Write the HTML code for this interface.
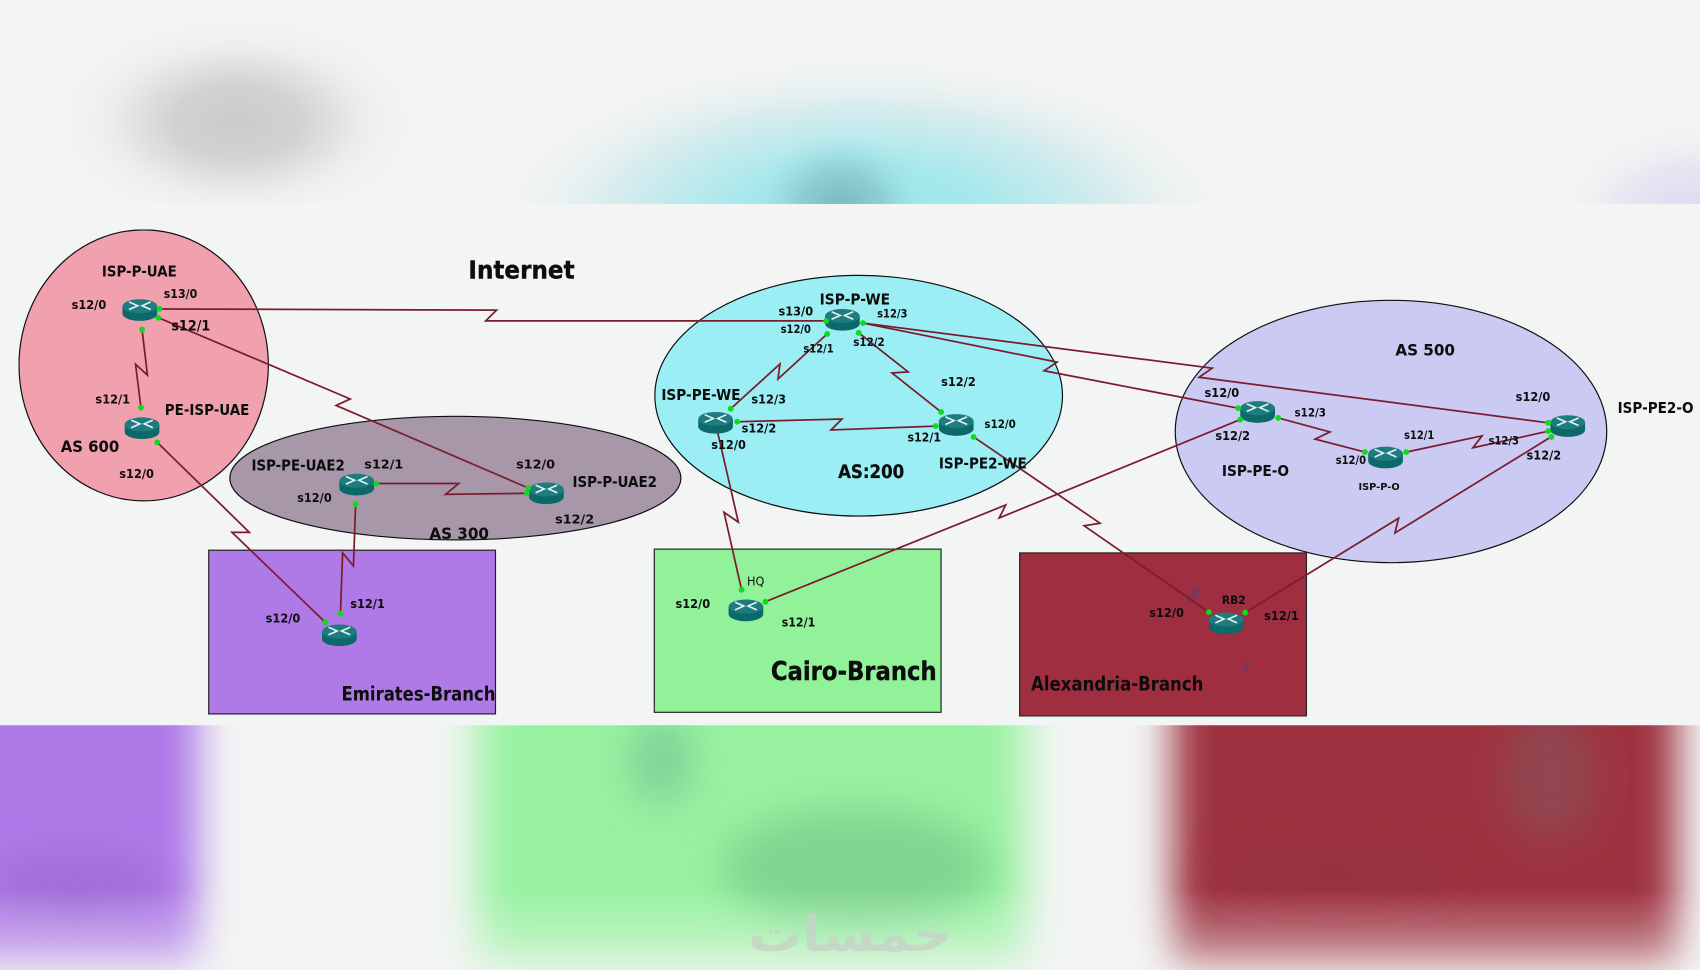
<!DOCTYPE html>
<html><head><meta charset="utf-8"><style>
html,body{margin:0;padding:0;background:#f3f5f4;width:1700px;height:970px;overflow:hidden}
svg{display:block;overflow:hidden}
.s{font:bold 11.5px "DejaVu Sans","Liberation Sans",sans-serif;fill:#111}
.n{font:bold 14px "DejaVu Sans","Liberation Sans",sans-serif;fill:#0a0a0a}
.l{fill:none;stroke:#7a1f2e;stroke-width:1.6;stroke-linejoin:miter}
.d{fill:#10dc1c}
</style></head><body>
<svg width="1700" height="970" viewBox="0 0 1568 894.7" xmlns="http://www.w3.org/2000/svg">
<defs>
<filter id="b2" x="-50%" y="-50%" width="200%" height="200%"><feGaussianBlur stdDeviation="18"/></filter>
<filter id="b3" x="-50%" y="-50%" width="200%" height="200%"><feGaussianBlur stdDeviation="20"/></filter>
<filter id="soft" x="0" y="0" width="100%" height="100%"><feGaussianBlur stdDeviation="0.35"/></filter>
<radialGradient id="gGray"><stop offset="0" stop-color="#cbcbcb"/><stop offset=".35" stop-color="#d2d2d2"/><stop offset=".7" stop-color="#ececeb"/><stop offset="1" stop-color="#f1f3f2" stop-opacity="0"/></radialGradient>
<radialGradient id="gTeal"><stop offset="0" stop-color="#96e8ee"/><stop offset=".35" stop-color="#a6e8ec"/><stop offset=".7" stop-color="#d8ecee"/><stop offset="1" stop-color="#f1f3f2" stop-opacity="0"/></radialGradient>
<radialGradient id="gTeal2"><stop offset="0" stop-color="#78b6bb"/><stop offset=".5" stop-color="#86c6ca" stop-opacity=".75"/><stop offset="1" stop-color="#9fe0e4" stop-opacity="0"/></radialGradient>
<radialGradient id="gPur"><stop offset="0" stop-color="#dcd6f0"/><stop offset=".6" stop-color="#e8e6f2"/><stop offset="1" stop-color="#f1f3f2" stop-opacity="0"/></radialGradient>
<linearGradient id="fade" x1="0" y1="0" x2="0" y2="1"><stop offset="0" stop-color="#f3f5f4" stop-opacity="0"/><stop offset="1" stop-color="#f3f5f4" stop-opacity=".55"/></linearGradient>
<clipPath id="top"><rect x="0" y="0" width="1568" height="188"/></clipPath>
<clipPath id="bot"><rect x="0" y="669" width="1568" height="225.7"/></clipPath>
<g id="r">
<path d="M-16-3.5V3.5A16 6.5 0 0 0 16 3.5V-3.5Z" fill="#0c686b"/>
<ellipse cx="0" cy="-3.5" rx="16" ry="6.5" fill="#1d7b80"/>
<path d="M-10-7.5L-2-4L-10-0.5M10-7.5L2-4L10-0.5" fill="none" stroke="#e6f2f2" stroke-width="1.5"/>
</g>
</defs>
<rect width="1568" height="894.7" fill="#f3f5f4"/>
<g clip-path="url(#top)">
<rect width="1568" height="188" fill="#f2f4f3"/>
<ellipse cx="218" cy="112" rx="165" ry="95" fill="url(#gGray)"/>
<ellipse cx="795" cy="205" rx="340" ry="152" fill="url(#gTeal)"/>
<ellipse cx="775" cy="195" rx="80" ry="72" fill="url(#gTeal2)"/>
<ellipse cx="1568" cy="205" rx="130" ry="90" fill="url(#gPur)"/>
</g>
<g clip-path="url(#bot)">
<rect y="669" width="1568" height="225.7" fill="#f3f5f4"/>
<rect x="-60" y="620" width="243" height="274" fill="#af79e8" filter="url(#b2)"/>
<ellipse cx="70" cy="815" rx="80" ry="30" fill="#a06ed8" filter="url(#b2)"/>
<rect x="440" y="620" width="505" height="274" fill="#98f2a0" filter="url(#b3)"/>
<ellipse cx="610" cy="700" rx="30" ry="42" fill="#7ed498" filter="url(#b2)"/>
<ellipse cx="790" cy="800" rx="125" ry="55" fill="#80d690" filter="url(#b2)"/>
<rect x="1082" y="620" width="465" height="274" fill="#9e3041" filter="url(#b2)"/>
<ellipse cx="1430" cy="716" rx="42" ry="60" fill="#914650" filter="url(#b2)"/>
<ellipse cx="1230" cy="805" rx="110" ry="30" fill="#983040" filter="url(#b2)"/>
<rect y="820" width="1568" height="74.7" fill="url(#fade)"/>
</g>
<text x="878" y="877" font-family="'DejaVu Sans',sans-serif" font-weight="bold" font-size="46" fill="#c6d4c6" opacity="0.8" textLength="188" lengthAdjust="spacingAndGlyphs" direction="rtl" style="unicode-bidi:plaintext">خمسات</text>

<g filter="url(#soft)">
<ellipse cx="132.5" cy="337" rx="115" ry="125" fill="#f1a1ae" stroke="#111" stroke-width="1.1"/>
<ellipse cx="420" cy="441" rx="208" ry="57" fill="#a797a9" stroke="#111" stroke-width="1.1"/>
<ellipse cx="792" cy="365" rx="188" ry="111" fill="#9beef4" stroke="#111" stroke-width="1.1"/>
<ellipse cx="1283" cy="398" rx="199" ry="121" fill="#cacaf2" stroke="#111" stroke-width="1.1"/>
<rect x="192.5" y="507.5" width="264.5" height="151" fill="#af79e8" stroke="#222" stroke-width="1.1"/>
<rect x="603.5" y="506.5" width="264.5" height="150.5" fill="#92f29a" stroke="#222" stroke-width="1.1"/>
<rect x="940.5" y="510" width="264.5" height="150.5" fill="#9e2e40" stroke="#222" stroke-width="1.1"/>

<polyline class="l" points="145,285 458,286 448,296 762,296"/>
<polyline class="l" points="146,293 323,368 310,374 487,450"/>
<polyline class="l" points="131,304 136,346 125,336 130,376"/>
<polyline class="l" points="145,408 230,491 214,491 300,574"/>
<polyline class="l" points="347,446 423,446 411,456 487,455"/>
<polyline class="l" points="328,465 326,522 316,510 314,566"/>
<polyline class="l" points="763,308 717.6,349.6 719.4,335.7 674,377"/>
<polyline class="l" points="792,307 837.6,343 822.7,344 868,380"/>
<polyline class="l" points="680,389 776.6,386.5 766.5,396.6 863,393"/>
<polyline class="l" points="662,399 681,481.6 667.8,472.6 684,544"/>
<polyline class="l" points="706,555 927.6,465.8 921.6,477.7 1144,387"/>
<polyline class="l" points="796,298 1118,339.6 1106,348 1428,390"/>
<polyline class="l" points="796,298 975,334 963,342 1142,376.5"/>
<polyline class="l" points="898,403 1014.6,482.6 1000,485 1115,564.6"/>
<polyline class="l" points="1148.5,565 1290,478 1286.6,491.6 1430.6,403"/>
<polyline class="l" points="1179,385.5 1226.7,398.4 1213,405 1259,417"/>
<polyline class="l" points="1297,417 1367,402 1358.6,413 1428,397.7"/>

<use href="#r" x="129" y="286"/><use href="#r" x="131" y="395"/><use href="#r" x="329" y="447"/>
<use href="#r" x="504" y="455"/><use href="#r" x="313" y="586"/><use href="#r" x="777" y="295"/>
<use href="#r" x="660" y="390"/><use href="#r" x="882" y="392"/><use href="#r" x="688" y="563"/>
<use href="#r" x="1160" y="380"/><use href="#r" x="1278" y="422"/><use href="#r" x="1446" y="393"/>
<use href="#r" x="1131" y="575"/>

<g class="d">
<circle cx="147" cy="285" r="2.7"/><circle cx="146" cy="293" r="2.7"/><circle cx="131" cy="304" r="2.7"/>
<circle cx="130" cy="376" r="2.7"/><circle cx="145" cy="408" r="2.7"/><circle cx="347" cy="446" r="2.7"/>
<circle cx="328" cy="465" r="2.7"/><circle cx="487" cy="450" r="2.7"/><circle cx="486" cy="455" r="2.7"/>
<circle cx="300" cy="574" r="2.7"/><circle cx="314" cy="566" r="2.7"/>
<circle cx="762" cy="296" r="2.7"/><circle cx="763" cy="308" r="2.7"/><circle cx="796" cy="298" r="2.7"/>
<circle cx="792" cy="307" r="2.7"/><circle cx="674" cy="377" r="2.7"/><circle cx="680" cy="389" r="2.7"/>
<circle cx="868" cy="380" r="2.7"/><circle cx="863" cy="393" r="2.7"/><circle cx="898" cy="403" r="2.7"/>
<circle cx="684" cy="544" r="2.7"/><circle cx="706" cy="555" r="2.7"/>
<circle cx="1142" cy="376.5" r="2.7"/><circle cx="1144" cy="387" r="2.7"/><circle cx="1179" cy="385.5" r="2.7"/>
<circle cx="1259" cy="417" r="2.7"/><circle cx="1297" cy="417" r="2.7"/>
<circle cx="1428" cy="390" r="2.7"/><circle cx="1428" cy="397.7" r="2.7"/><circle cx="1431" cy="403" r="2.7"/>
<circle cx="1115" cy="564.6" r="2.7"/><circle cx="1148.5" cy="565" r="2.7"/>
</g>

<g class="n">
<text x="94" y="255" textLength="69" lengthAdjust="spacingAndGlyphs">ISP-P-UAE</text>
<text x="152" y="383" textLength="78" lengthAdjust="spacingAndGlyphs">PE-ISP-UAE</text>
<text x="232" y="434" textLength="86" lengthAdjust="spacingAndGlyphs">ISP-PE-UAE2</text>
<text x="528" y="449" textLength="78" lengthAdjust="spacingAndGlyphs">ISP-P-UAE2</text>
<text x="756" y="281" textLength="65" lengthAdjust="spacingAndGlyphs">ISP-P-WE</text>
<text x="610" y="369" textLength="73" lengthAdjust="spacingAndGlyphs">ISP-PE-WE</text>
<text x="866" y="432" textLength="81" lengthAdjust="spacingAndGlyphs">ISP-PE2-WE</text>
<text x="1127" y="439" textLength="62" lengthAdjust="spacingAndGlyphs">ISP-PE-O</text>
<text x="1492" y="381" textLength="70" lengthAdjust="spacingAndGlyphs">ISP-PE2-O</text>
<text x="56" y="417" font-size="15" textLength="54" lengthAdjust="spacingAndGlyphs">AS 600</text>
<text x="396" y="497" font-size="15" textLength="55" lengthAdjust="spacingAndGlyphs">AS 300</text>
<text x="1287" y="328" font-size="15" textLength="55" lengthAdjust="spacingAndGlyphs">AS 500</text>
<text x="773" y="441" font-size="17" textLength="61" lengthAdjust="spacingAndGlyphs" stroke="#0a0a0a" stroke-width=".25">AS:200</text>
<text x="432" y="257" font-size="23" textLength="98" lengthAdjust="spacingAndGlyphs" stroke="#0a0a0a" stroke-width=".35">Internet</text>
<text x="315" y="646" font-size="18" textLength="142" lengthAdjust="spacingAndGlyphs">Emirates-Branch</text>
<text x="711" y="627" font-size="24" textLength="153" lengthAdjust="spacingAndGlyphs" stroke="#0a0a0a" stroke-width=".35">Cairo-Branch</text>
<text x="951" y="637" font-size="18" textLength="159" lengthAdjust="spacingAndGlyphs">Alexandria-Branch</text>
</g>
<g class="s">
<text x="151" y="275" textLength="31" lengthAdjust="spacingAndGlyphs">s13/0</text>
<text x="66" y="285" textLength="32" lengthAdjust="spacingAndGlyphs">s12/0</text>
<text x="158" y="305" textLength="36" lengthAdjust="spacingAndGlyphs" style="font-size:13px">s12/1</text>
<text x="88" y="372" textLength="32" lengthAdjust="spacingAndGlyphs">s12/1</text>
<text x="110" y="441" textLength="32" lengthAdjust="spacingAndGlyphs">s12/0</text>
<text x="336" y="432" textLength="36" lengthAdjust="spacingAndGlyphs">s12/1</text>
<text x="274" y="463" textLength="32" lengthAdjust="spacingAndGlyphs">s12/0</text>
<text x="476" y="432" textLength="36" lengthAdjust="spacingAndGlyphs">s12/0</text>
<text x="512" y="483" textLength="36" lengthAdjust="spacingAndGlyphs">s12/2</text>
<text x="245" y="574" textLength="32" lengthAdjust="spacingAndGlyphs">s12/0</text>
<text x="323" y="561" textLength="32" lengthAdjust="spacingAndGlyphs">s12/1</text>
<text x="718" y="291" textLength="32" lengthAdjust="spacingAndGlyphs">s13/0</text>
<text x="720" y="307" textLength="28" lengthAdjust="spacingAndGlyphs" style="font-size:10.5px">s12/0</text>
<text x="809" y="293" textLength="28" lengthAdjust="spacingAndGlyphs" style="font-size:10.5px">s12/3</text>
<text x="741" y="325" textLength="28" lengthAdjust="spacingAndGlyphs" style="font-size:10.5px">s12/1</text>
<text x="787" y="319" textLength="29" lengthAdjust="spacingAndGlyphs" style="font-size:10.5px">s12/2</text>
<text x="868" y="356" textLength="32" lengthAdjust="spacingAndGlyphs">s12/2</text>
<text x="693" y="372" textLength="32" lengthAdjust="spacingAndGlyphs">s12/3</text>
<text x="684" y="399" textLength="32" lengthAdjust="spacingAndGlyphs">s12/2</text>
<text x="656" y="414" textLength="32" lengthAdjust="spacingAndGlyphs">s12/0</text>
<text x="837" y="407" textLength="31" lengthAdjust="spacingAndGlyphs">s12/1</text>
<text x="908" y="395" textLength="29" lengthAdjust="spacingAndGlyphs" style="font-size:10.5px">s12/0</text>
<text x="689" y="540" textLength="16" lengthAdjust="spacingAndGlyphs" style="font-weight:normal">HQ</text>
<text x="623" y="561" textLength="32" lengthAdjust="spacingAndGlyphs">s12/0</text>
<text x="721" y="578" textLength="31" lengthAdjust="spacingAndGlyphs">s12/1</text>
<text x="1111" y="366" textLength="32" lengthAdjust="spacingAndGlyphs">s12/0</text>
<text x="1194" y="384" textLength="29" lengthAdjust="spacingAndGlyphs" style="font-size:10.5px">s12/3</text>
<text x="1121" y="406" textLength="32" lengthAdjust="spacingAndGlyphs">s12/2</text>
<text x="1232" y="428" textLength="28" lengthAdjust="spacingAndGlyphs" style="font-size:10.5px">s12/0</text>
<text x="1295" y="405" textLength="28" lengthAdjust="spacingAndGlyphs" style="font-size:10.5px">s12/1</text>
<text x="1373" y="410" textLength="28" lengthAdjust="spacingAndGlyphs" style="font-size:10.5px">s12/3</text>
<text x="1398" y="370" textLength="32" lengthAdjust="spacingAndGlyphs">s12/0</text>
<text x="1408" y="424" textLength="32" lengthAdjust="spacingAndGlyphs">s12/2</text>
<text x="1253" y="452" textLength="38" lengthAdjust="spacingAndGlyphs" style="font-size:9px">ISP-P-O</text>
<text x="1127" y="557" textLength="22" lengthAdjust="spacingAndGlyphs" style="font-size:10.5px">RB2</text>
<text x="1060" y="569" textLength="32" lengthAdjust="spacingAndGlyphs">s12/0</text>
<text x="1166" y="572" textLength="32" lengthAdjust="spacingAndGlyphs">s12/1</text>
<text x="1095" y="551" style="fill:#2a4aa0;font-weight:normal">.2</text>
<text x="1142" y="618" style="fill:#2a4aa0;font-weight:normal">.2</text>
</g>
</g>
</svg>
</body></html>
